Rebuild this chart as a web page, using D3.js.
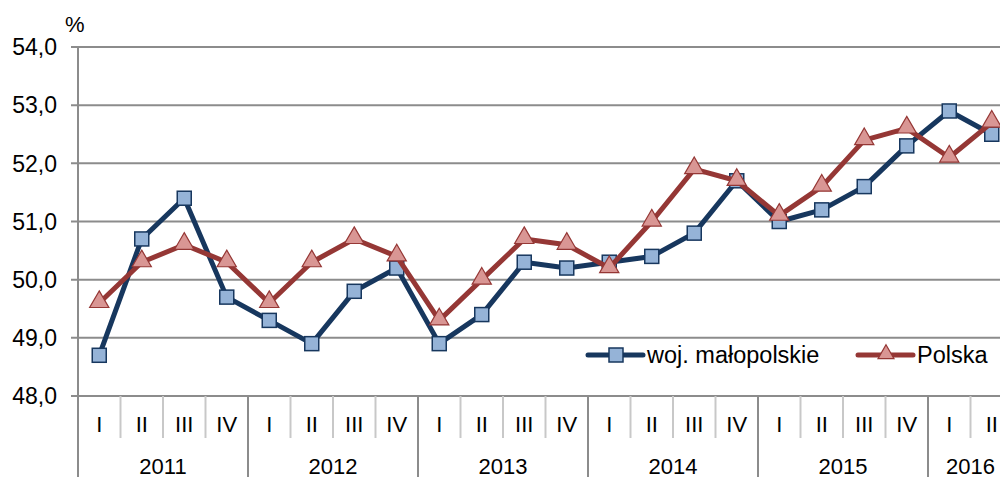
<!DOCTYPE html>
<html lang="pl">
<head>
<meta charset="utf-8">
<title>Chart</title>
<script src="https://cdnjs.cloudflare.com/ajax/libs/d3/7.8.5/d3.min.js"></script>
<style>
  html, body { margin: 0; padding: 0; background: #fff; overflow: hidden; }
  svg { display: block; font-family: "Liberation Sans", Arial, sans-serif; }
</style>
</head>
<body>
<svg id="chart" width="1000" height="477"></svg>
<script>
// dane
var years = ["2011", "2012", "2013", "2014", "2015", "2016"];
var quarters = ["I", "II", "III", "IV"];
var malopolskie = [48.7, 50.7, 51.4, 49.7, 49.3, 48.9, 49.8, 50.2, 48.9, 49.4, 50.3, 50.2,
                   50.3, 50.4, 50.8, 51.7, 51.0, 51.2, 51.6, 52.3, 52.9, 52.5];
var polska = [49.6, 50.3, 50.6, 50.3, 49.6, 50.3, 50.7, 50.4, 49.3, 50.0, 50.7, 50.6,
              50.2, 51.0, 51.9, 51.7, 51.1, 51.6, 52.4, 52.6, 52.1, 52.7];
var yTicks = [48, 49, 50, 51, 52, 53, 54];
var seriesNames = ["woj. małopolskie", "Polska"];

var svg = d3.select("#chart");
var mLeft = 78, mTop = 47, mBottom = 396;

// kategorie (tylko tyle kwartałów, ile danych)
var cats = [];
years.forEach(function(yr){ quarters.forEach(function(q){ cats.push(yr + "-" + q); }); });
cats = cats.slice(0, malopolskie.length);
var x = d3.scaleBand().domain(cats).range([mLeft, mLeft + cats.length * 42.5]);
var y = d3.scaleLinear().domain([48, 54]).range([mBottom, mTop]);

// siatka
svg.append("g").selectAll("line").data(yTicks).enter().append("line")
  .attr("x1", mLeft - 7).attr("x2", 1000)
  .attr("y1", function(d){ return y(d); }).attr("y2", function(d){ return y(d); })
  .attr("stroke", "#8c8c8c").attr("stroke-width", 2);

// oś Y
svg.append("line").attr("x1", mLeft).attr("x2", mLeft).attr("y1", mTop).attr("y2", 477)
  .attr("stroke", "#8c8c8c").attr("stroke-width", 2);

svg.append("g").selectAll("text").data(yTicks).enter().append("text")
  .attr("x", 57).attr("y", function(d){ return y(d); })
  .attr("dy", "0.36em").attr("text-anchor", "end")
  .attr("font-size", 23).attr("fill", "#000")
  .text(function(d){ return d3.format(".1f")(d).replace(".", ","); });

svg.append("text").attr("x", 65).attr("y", 32).attr("font-size", 22).text("%");

// separatory kwartałów i lat
svg.append("g").selectAll("line").data(cats.slice(1)).enter().append("line")
  .attr("x1", function(d){ return x(d); }).attr("x2", function(d){ return x(d); })
  .attr("y1", mBottom)
  .attr("y2", function(d){ return d.slice(-2) === "-I" ? 477 : 438; })
  .attr("stroke", function(d){ return d.slice(-2) === "-I" ? "#8c8c8c" : "#c8c8c8"; })
  .attr("stroke-width", 2);

svg.append("g").selectAll("text").data(cats).enter().append("text")
  .attr("x", function(d){ return x(d) + x.bandwidth() / 2; })
  .attr("y", 432).attr("text-anchor", "middle").attr("font-size", 22)
  .text(function(d){ return d.split("-")[1]; });

svg.append("g").selectAll("text").data(years).enter().append("text")
  .attr("x", function(d){
    var qs = cats.filter(function(c){ return c.indexOf(d) === 0; });
    return x(qs[0]) + qs.length * x.bandwidth() / 2;
  })
  .attr("y", 474).attr("text-anchor", "middle").attr("font-size", 22)
  .text(function(d){ return d; });

// linie
var cx = function(d, i){ return x(cats[i]) + x.bandwidth() / 2; };
var line = d3.line().x(cx).y(function(d){ return y(d); });

var colors = [{line: "#17375e", fill: "#95b3d7"}, {line: "#953735", fill: "#d99694"}];

function squares(g, c) {
  g.append("rect").attr("x", -7).attr("y", -7).attr("width", 14).attr("height", 14)
    .attr("fill", c.fill).attr("stroke", c.line).attr("stroke-width", 1.5);
}
function triangles(g, c, size) {
  g.append("path").attr("d", d3.symbol().type(d3.symbolTriangle).size(size || 160))
    .attr("transform", "translate(0,-1)")
    .attr("fill", c.fill).attr("stroke", c.line).attr("stroke-width", 1.2);
}

function drawSeries(data, c, shape) {
  svg.append("path").datum(data).attr("d", line)
    .attr("fill", "none").attr("stroke", c.line).attr("stroke-width", 5)
    .attr("stroke-linejoin", "round");
  var g = svg.append("g").selectAll("g").data(data).enter().append("g")
    .attr("transform", function(d, i){ return "translate(" + cx(d, i) + "," + y(d) + ")"; });
  shape(g, c);
}

drawSeries(malopolskie, colors[0], squares);
drawSeries(polska, colors[1], triangles);

// legenda
var legend = [{x: 588, name: seriesNames[0], c: colors[0], shape: squares},
              {x: 858, name: seriesNames[1], c: colors[1], shape: triangles}];
legend.forEach(function(l){
  var ly = 355;
  svg.append("line").attr("x1", l.x).attr("x2", l.x + 55).attr("y1", ly).attr("y2", ly)
    .attr("stroke", l.c.line).attr("stroke-width", 5).attr("stroke-linecap", "round");
  var g = svg.append("g").attr("transform", "translate(" + (l.x + 28) + "," + ly + ")");
  l.shape(g, l.c, 110);
  svg.append("text").attr("x", l.x + 59).attr("y", ly).attr("dy", "0.36em")
    .attr("font-size", 23.5).text(l.name);
});
</script>
</body>
</html>
